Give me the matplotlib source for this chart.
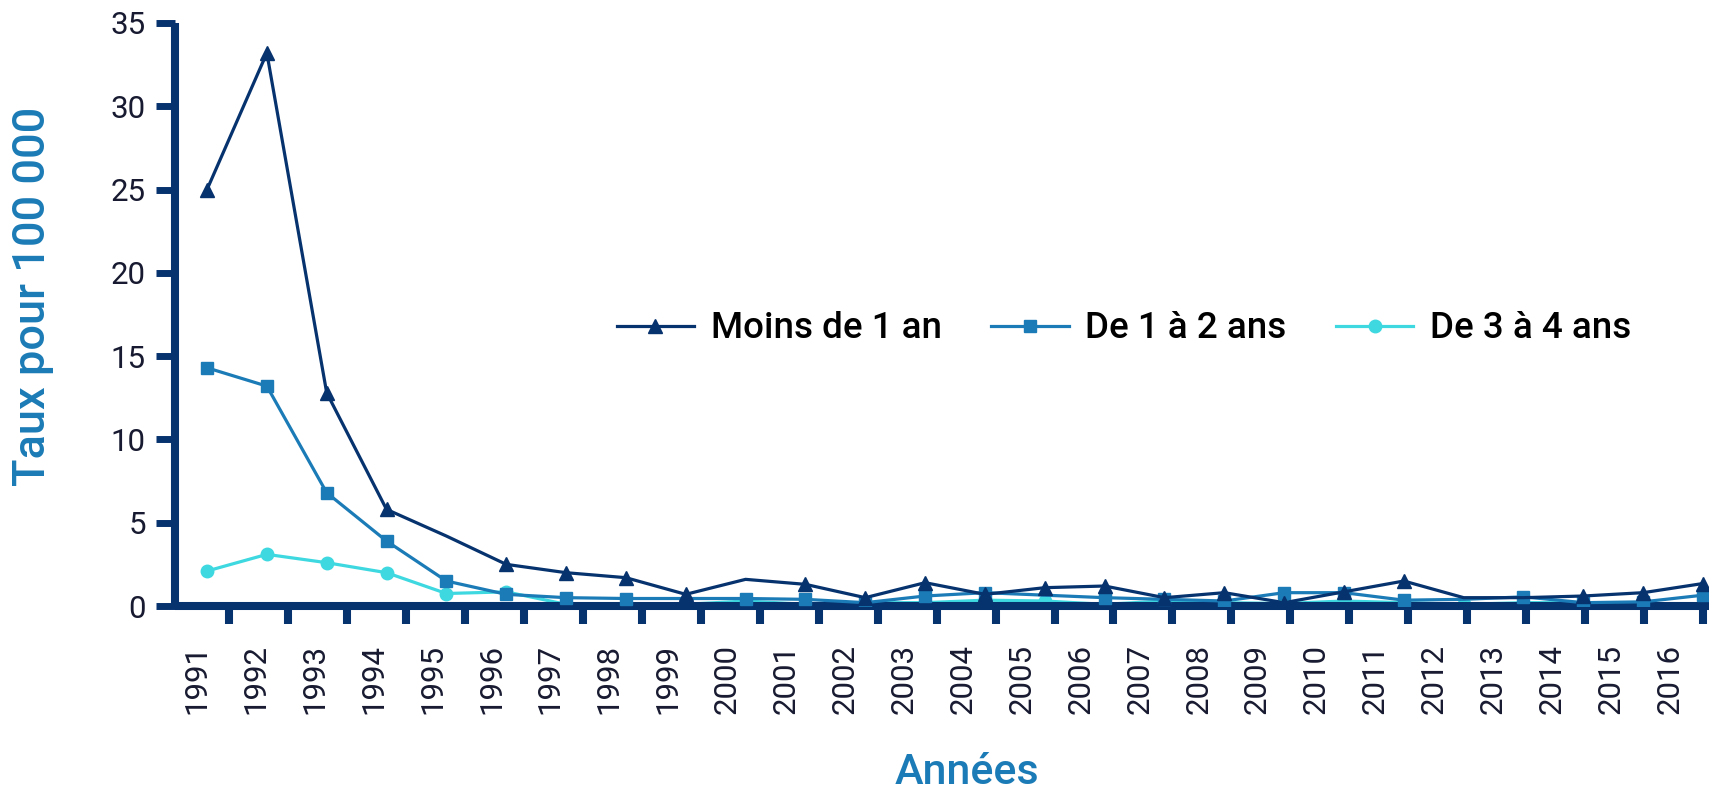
import numpy as np
import matplotlib
matplotlib.use("Agg")
import matplotlib.pyplot as plt

plt.rcParams['font.family'] = ['Roboto', 'DejaVu Sans']

# Données (taux pour 100 000)
years = [str(y) for y in range(1991, 2017)]
moins_1_an = [25.0, 33.2, 12.8, 5.8, 4.2, 2.5, 2.0, 1.7, 0.7, 1.6, 1.3, 0.5, 1.4,
              0.7, 1.1, 1.2, 0.5, 0.8, 0.2, 0.85, 1.5, 0.5, 0.5, 0.6, 0.8, 1.35]
de_1_a_2 = [14.3, 13.2, 6.8, 3.9, 1.5, 0.7, 0.5, 0.45, 0.45, 0.45, 0.4, 0.2, 0.6,
            0.8, 0.65, 0.5, 0.4, 0.3, 0.8, 0.8, 0.35, 0.4, 0.55, 0.2, 0.25, 0.65]
de_3_a_4 = [2.1, 3.1, 2.6, 2.0, 0.75, 0.85, 0.1, 0.1, 0.1, 0.3, 0.1, 0.2, 0.2,
            0.35, 0.3, 0.1, 0.3, 0.2, 0.15, 0.3, 0.2, 0.1, 0.2, 0.2, 0.2, np.nan]

navy = '#06326e'
blue = '#1b7bb6'
cyan = '#3ed8e0'
txt = '#171a30'

fig = plt.figure(figsize=(17.09, 7.90), dpi=100)
ax = fig.add_axes([175 / 1709, 1 - 606 / 790, 1 - 175 / 1709, (606 - 23) / 790])

x = np.arange(len(years))
ax.plot(x, moins_1_an, color=navy, lw=2.3, marker='^', ms=10.5,
        markevery=[i for i in range(len(years)) if i not in (4, 9, 21, 22)],
        label='Moins de 1 an', zorder=4)
ax.plot(x, de_1_a_2, color=blue, lw=2.3, marker='s', ms=9,
        markevery=[i for i in range(len(years)) if i not in (8, 14, 21)],
        label='De 1 à 2 ans', zorder=3)
ax.plot(x, de_3_a_4, color=cyan, lw=2.3, marker='o', ms=9,
        label='De 3 à 4 ans', zorder=2)

ax.set_xlim(-0.535, 25.1)
ax.set_ylim(0, 35)

# axes style
for s in ['top', 'right']:
    ax.spines[s].set_visible(False)
for s in ['left', 'bottom']:
    ax.spines[s].set_color(navy)
    ax.spines[s].set_linewidth(5.8)
    ax.spines[s].set_capstyle('butt')

ax.set_yticks(range(0, 36, 5))
ax.tick_params(axis='y', length=14, width=5, color=navy, pad=7,
               labelsize=22.5, labelcolor=txt)

ax.set_xticks(np.linspace(-0.17, 24.45, len(years)))
ax.set_xticklabels(years, rotation=90, va='top', ha='center')
ax.tick_params(axis='x', which='major', length=0, pad=27,
               labelsize=22.5, labelcolor=txt)
ax.set_xticks(np.linspace(0.37, 25.0, len(years)), minor=True)
ax.tick_params(axis='x', which='minor', length=13, width=5.8, color=navy)

ax.set_ylabel('Taux pour 100 000', fontsize=32.5, color=blue, fontweight='medium')
ax.yaxis.set_label_coords(33 / 1709, 1 - 296 / 790, transform=fig.transFigure)
ax.yaxis.label.set_va('center')
ax.set_xlabel('Années', fontsize=31, color=blue, fontweight='medium')
ax.xaxis.set_label_coords(967 / 1709, 1 - 772 / 790, transform=fig.transFigure)
ax.xaxis.label.set_va('center')

leg = ax.legend(loc='center', bbox_to_anchor=(1124 / 1709, 1 - 329 / 790),
                bbox_transform=fig.transFigure, ncol=3, frameon=False,
                prop={'size': 26.5, 'weight': 'medium'}, handlelength=2.1,
                handletextpad=0.45, columnspacing=1.35)
for t in leg.get_texts():
    t.set_color('black')

fig.savefig('out.png', dpi=100)
